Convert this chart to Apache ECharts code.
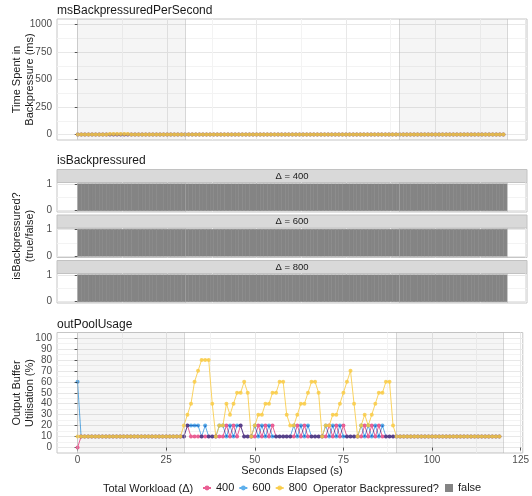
<!DOCTYPE html>
<html>
<head>
<meta charset="utf-8">
<script src="https://cdn.jsdelivr.net/npm/echarts@6/dist/echarts.min.js"></script>
<style>
  html, body { margin: 0; padding: 0; background: #ffffff; }
  #chart { width: 532px; height: 496px; }
</style>
</head>
<body>
<div id="chart"></div>
<script>
// ---- data ---------------------------------------------------------------
// one sample per elapsed second, 0..119
const seconds = [];
for (let s = 0; s < 120; s++) seconds.push(s);

const workloads = ['400', '600', '800'];

// msBackpressuredPerSecond per workload (ms)
const ms400 = [
  0,0,0,0,0,0,0,0,0,0, 0,0,0,0,0,0,0,0,0,0, 0,0,0,0,0,0,0,0,0,0,
  0,0,0,0,0,0,0,0,0,0, 0,0,0,0,0,0,0,0,0,0, 0,0,0,0,0,0,0,0,0,0,
  0,0,0,0,0,0,0,0,0,0, 0,0,0,0,0,0,0,0,0,0, 0,0,0,0,0,0,0,0,0,0,
  0,0,0,0,0,0,0,0,0,0, 0,0,0,0,0,0,0,0,0,0, 0,0,0,0,0,0,0,0,0,0
];
const ms600 = [
  0,0,0,0,0,0,0,0,0,0, 0,0,0,0,0,0,0,0,0,0, 0,0,0,0,0,0,0,0,0,0,
  0,0,0,0,0,0,0,0,0,0, 0,0,0,0,0,0,0,0,0,0, 0,0,0,0,0,0,0,0,0,0,
  0,0,0,0,0,0,0,0,0,0, 0,0,0,0,0,0,0,0,0,0, 0,0,0,0,0,0,0,0,0,0,
  0,0,0,0,0,0,0,0,0,0, 0,0,0,0,0,0,0,0,0,0, 0,0,0,0,0,0,0,0,0,0
];
const ms800 = [
  0,0,0,0,0,0,0,0,0,4, 4,4,4,4,4,0,0,0,0,0, 0,0,0,0,0,0,0,0,0,0,
  0,0,0,0,0,0,0,0,0,0, 0,0,0,0,0,0,0,0,0,0, 0,0,0,0,0,0,0,0,0,0,
  0,0,0,0,0,0,0,0,0,0, 0,0,0,0,0,0,0,0,0,0, 0,0,0,0,0,0,0,0,0,0,
  0,0,0,0,0,0,0,0,0,0, 0,0,0,0,0,0,0,0,0,0, 0,0,0,0,0,0,0,0,0,0
];

// isBackpressured per workload (0 = false, 1 = true)
const bp400 = [
  0,0,0,0,0,0,0,0,0,0, 0,0,0,0,0,0,0,0,0,0, 0,0,0,0,0,0,0,0,0,0,
  0,0,0,0,0,0,0,0,0,0, 0,0,0,0,0,0,0,0,0,0, 0,0,0,0,0,0,0,0,0,0,
  0,0,0,0,0,0,0,0,0,0, 0,0,0,0,0,0,0,0,0,0, 0,0,0,0,0,0,0,0,0,0,
  0,0,0,0,0,0,0,0,0,0, 0,0,0,0,0,0,0,0,0,0, 0,0,0,0,0,0,0,0,0,0
];
const bp600 = [
  0,0,0,0,0,0,0,0,0,0, 0,0,0,0,0,0,0,0,0,0, 0,0,0,0,0,0,0,0,0,0,
  0,0,0,0,0,0,0,0,0,0, 0,0,0,0,0,0,0,0,0,0, 0,0,0,0,0,0,0,0,0,0,
  0,0,0,0,0,0,0,0,0,0, 0,0,0,0,0,0,0,0,0,0, 0,0,0,0,0,0,0,0,0,0,
  0,0,0,0,0,0,0,0,0,0, 0,0,0,0,0,0,0,0,0,0, 0,0,0,0,0,0,0,0,0,0
];
const bp800 = [
  0,0,0,0,0,0,0,0,0,0, 0,0,0,0,0,0,0,0,0,0, 0,0,0,0,0,0,0,0,0,0,
  0,0,0,0,0,0,0,0,0,0, 0,0,0,0,0,0,0,0,0,0, 0,0,0,0,0,0,0,0,0,0,
  0,0,0,0,0,0,0,0,0,0, 0,0,0,0,0,0,0,0,0,0, 0,0,0,0,0,0,0,0,0,0,
  0,0,0,0,0,0,0,0,0,0, 0,0,0,0,0,0,0,0,0,0, 0,0,0,0,0,0,0,0,0,0
];

// outPoolUsage per workload (%)
const pool400 = [
   0,10,10,10,10,10,10,10,10,10,
  10,10,10,10,10,10,10,10,10,10,
  10,10,10,10,10,10,10,10,10,10,
  10,20,10,10,10,10,10,10,10,10,
  10,10,20,10,20,10,20,10,10,10,
  10,20,10,20,10,20,10,10,10,10,
  10,10,20,10,20,10,10,10,10,10,
  10,20,10,20,10,20,10,10,10,10,
  10,20,10,20,10,20,10,10,10,10,
  10,10,10,10,10,10,10,10,10,10,
  10,10,10,10,10,10,10,10,10,10,
  10,10,10,10,10,10,10,10,10,10
];
const pool600 = [
  60,10,10,10,10,10,10,10,10,10,
  10,10,10,10,10,10,10,10,10,10,
  10,10,10,10,10,10,10,10,10,10,
  10,20,20,20,20,10,20,10,10,10,
  20,20,10,20,10,20,20,10,10,10,
  20,10,20,10,20,10,10,10,10,10,
  10,20,10,20,10,20,10,10,10,10,
  20,10,20,10,20,10,10,10,10,10,
  20,10,20,10,20,10,20,10,10,10,
  10,10,10,10,10,10,10,10,10,10,
  10,10,10,10,10,10,10,10,10,10,
  10,10,10,10,10,10,10,10,10,10
];
const pool800 = [
  10,10,10,10,10,10,10,10,10,10,
  10,10,10,10,10,10,10,10,10,10,
  10,10,10,10,10,10,10,10,10,10,
  20,30,40,60,70,80,80,80,40,10,
  20,20,40,30,40,50,50,60,50,10,
  20,30,30,40,40,50,50,60,60,30,
  20,20,30,40,40,50,60,60,50,10,
  20,20,30,30,40,50,60,70,40,10,
  20,30,20,30,40,50,50,60,60,20,
  10,10,10,10,10,10,10,10,10,10,
  10,10,10,10,10,10,10,10,10,10,
  10,10,10,10,10,10,10,10,10,10
];

// experiment phases: [0,30) warm-up and [90,120) cool-down are shaded
const phaseBounds = [0, 30, 90, 120];
const shadedPhases = [[0, 30], [90, 120]];

// tick labels
const secondTicks = [0, 25, 50, 75, 100, 125];
const secondMinor = [12.5, 37.5, 62.5, 87.5, 112.5];
const msTicks = [0, 250, 500, 750, 1000];
const msMinor = [125, 375, 625, 875];
const flagTicks = [0, 1];
const flagMinor = [0.5];
const poolTicks = [0, 10, 20, 30, 40, 50, 60, 70, 80, 90, 100];
const poolMinor = [5, 15, 25, 35, 45, 55, 65, 75, 85, 95];

// ---- styling ------------------------------------------------------------
const FONT = '"Liberation Sans", Arial, Helvetica, sans-serif';
const seriesColor = { '400': '#ea5f94', '600': '#5fb0ec', '800': '#f9cb45' };
const stateFill = ['#848484', '#d9534f'];
const TILE_WIDTH = 1;
const X_MIN = -5.8, X_MAX = 125.6;
const PANEL_LEFT = 57, PANEL_WIDTH = 470;
const plainNumber = v => String(v);

const panels = [
  { top: 19,    height: 121,  yMin: -50,   yMax: 1050, major: msTicks,   minor: msMinor,   xLabels: false },
  { top: 182.5, height: 29.5, yMin: -0.05, yMax: 1.05, major: flagTicks, minor: flagMinor, xLabels: false },
  { top: 228,   height: 29.5, yMin: -0.05, yMax: 1.05, major: flagTicks, minor: flagMinor, xLabels: false },
  { top: 273.5, height: 29.5, yMin: -0.05, yMax: 1.05, major: flagTicks, minor: flagMinor, xLabels: false },
  { top: 332.5, height: 120.5, yMin: -5,   yMax: 105,  major: poolTicks, minor: poolMinor, xLabels: true }
];

const grids = [], xAxes = [], yAxes = [];
panels.forEach((p, i) => {
  grids.push({
    left: PANEL_LEFT, top: p.top, width: PANEL_WIDTH, height: p.height,
    show: true, borderColor: '#c6c6c6', borderWidth: 1, backgroundColor: 'transparent'
  });
  xAxes.push({
    type: 'value', gridIndex: i, min: X_MIN, max: X_MAX, position: 'bottom',
    axisLine: { show: false },
    axisTick: { show: p.xLabels, customValues: secondTicks, length: 3, lineStyle: { color: '#555' } },
    axisLabel: { show: p.xLabels, customValues: secondTicks, formatter: plainNumber,
                 color: '#4d4d4d', fontSize: 10, margin: 2, fontFamily: FONT },
    splitLine: { show: true, lineStyle: { color: '#e8e8e8', width: 1 } }
  });
  xAxes.push({
    type: 'value', gridIndex: i, min: X_MIN, max: X_MAX, position: 'top',
    axisLine: { show: false },
    axisTick: { show: false, customValues: secondMinor },
    axisLabel: { show: false, customValues: secondMinor },
    splitLine: { show: true, lineStyle: { color: '#f3f3f3', width: 1 } }
  });
  yAxes.push({
    type: 'value', gridIndex: i, min: p.yMin, max: p.yMax, position: 'left',
    axisLine: { show: false },
    axisTick: { show: true, customValues: p.major, length: 3, lineStyle: { color: '#555' } },
    axisLabel: { show: true, customValues: p.major, formatter: plainNumber,
                 color: '#4d4d4d', fontSize: 10, margin: 5, fontFamily: FONT },
    splitLine: { show: true, lineStyle: { color: '#e8e8e8', width: 1 } }
  });
  yAxes.push({
    type: 'value', gridIndex: i, min: p.yMin, max: p.yMax, position: 'right',
    axisLine: { show: false },
    axisTick: { show: false, customValues: p.minor },
    axisLabel: { show: false, customValues: p.minor },
    splitLine: { show: true, lineStyle: { color: '#f3f3f3', width: 1 } }
  });
});

const shadeMarker = {
  silent: true,
  itemStyle: { color: 'rgba(0,0,0,0.04)' },
  data: shadedPhases.map(r => [{ xAxis: r[0] }, { xAxis: r[1] }])
};
const vlineMarker = {
  silent: true, symbol: ['none', 'none'], animation: false,
  label: { show: false },
  lineStyle: { color: 'rgba(175,175,175,0.5)', type: 'solid', width: 1 },
  emphasis: { disabled: true },
  data: phaseBounds.map(v => ({ xAxis: v }))
};

function lineSeries(name, values, panelIdx) {
  const s = {
    type: 'line', name: name,
    xAxisIndex: 2 * panelIdx, yAxisIndex: 2 * panelIdx,
    data: seconds.map((t, i) => [t, values[i]]),
    symbol: 'circle', symbolSize: 4, showSymbol: true,
    lineStyle: { color: seriesColor[name], width: 1 },
    itemStyle: { color: seriesColor[name] },
    emphasis: { disabled: true }, silent: true, animation: false
  };
  if (name === '400') { s.markArea = shadeMarker; s.markLine = vlineMarker; }
  if (name === '600') { s.blendMode = 'multiply'; }
  if (name === '800') { s.lineStyle.opacity = 0.85; s.itemStyle.opacity = 0.85; }
  return s;
}

function tileSeries(states, panelIdx) {
  return {
    type: 'custom', name: 'false',
    xAxisIndex: 2 * panelIdx, yAxisIndex: 2 * panelIdx,
    data: seconds.map((t, i) => [t, states[i]]),
    encode: { x: 0, y: 1 },
    itemStyle: { color: stateFill[0] },
    renderItem: function (params, api) {
      const t = api.value(0);
      const k = api.value(1) ? 1 : 0;
      const a = api.coord([t, 0]);
      const b = api.coord([t + TILE_WIDTH, 1]);
      return {
        type: 'rect',
        shape: { x: a[0], y: b[1], width: b[0] - a[0], height: a[1] - b[1] },
        style: { fill: stateFill[k], stroke: stateFill[k], lineWidth: 0.5 }
      };
    },
    markArea: shadeMarker, markLine: vlineMarker,
    silent: true, animation: false
  };
}

const msSeries = { '400': ms400, '600': ms600, '800': ms800 };
const poolSeries = { '400': pool400, '600': pool600, '800': pool800 };
const bpSeries = [bp400, bp600, bp800];

const series = [];
workloads.forEach(w => series.push(lineSeries(w, msSeries[w], 0)));
bpSeries.forEach((st, j) => series.push(tileSeries(st, j + 1)));
workloads.forEach(w => series.push(lineSeries(w, poolSeries[w], 4)));

// ---- text: titles, axis titles, facet strips, legend titles --------------
function label(text, x, y, size, align) {
  return {
    type: 'text', x: x, y: y, silent: true,
    style: { text: text, fill: '#1a1a1a', fontSize: size, fontFamily: FONT,
             align: align || 'left', verticalAlign: 'middle' }
  };
}
function yTitle(text, x, y) {
  return {
    type: 'text', x: x, y: y, rotation: Math.PI / 2, silent: true,
    style: { text: text, fill: '#1a1a1a', fontSize: 11, fontFamily: FONT,
             align: 'center', verticalAlign: 'middle', lineHeight: 13 }
  };
}

const graphics = [
  label('msBackpressuredPerSecond', PANEL_LEFT, 11, 12),
  label('isBackpressured', PANEL_LEFT, 160.5, 12),
  label('outPoolUsage', PANEL_LEFT, 324.5, 12),
  yTitle('Time Spent in\nBackpressure (ms)', 23, 79.5),
  yTitle('isBackpressured?\n(true/false)', 23, 236),
  yTitle('Output Buffer\nUtilisation (%)', 23, 393),
  label('Seconds Elapsed (s)', PANEL_LEFT + PANEL_WIDTH / 2, 471, 11, 'center'),
  label('Total Workload (\u0394)', 103, 489, 11),
  label('Operator Backpressured?', 313, 489, 11)
];
workloads.forEach((w, j) => {
  const top = panels[j + 1].top - 13;
  graphics.push({
    type: 'rect', silent: true,
    shape: { x: PANEL_LEFT, y: top, width: PANEL_WIDTH, height: 13 },
    style: { fill: '#d9d9d9', stroke: '#c2c2c2', lineWidth: 1 }
  });
  graphics.push(label('\u0394 = ' + w, PANEL_LEFT + PANEL_WIDTH / 2, top + 6.5, 9.5, 'center'));
});

const chart = echarts.init(document.getElementById('chart'), null, { renderer: 'canvas', width: 532, height: 496 });
chart.setOption({
  animation: false,
  backgroundColor: '#ffffff',
  textStyle: { fontFamily: FONT },
  grid: grids,
  xAxis: xAxes,
  yAxis: yAxes,
  series: series,
  graphic: graphics,
  legend: [
    {
      data: workloads, left: 202, top: 482.5, padding: 0,
      itemWidth: 8, itemHeight: 6, itemGap: 4, selectedMode: false,
      textStyle: { fontSize: 11, color: '#1a1a1a', fontFamily: FONT }
    },
    {
      data: ['false'], left: 445, top: 482.5, padding: 0,
      icon: 'rect', itemWidth: 8, itemHeight: 8, selectedMode: false,
      textStyle: { fontSize: 11, color: '#1a1a1a', fontFamily: FONT }
    }
  ]
});
</script>
</body>
</html>
